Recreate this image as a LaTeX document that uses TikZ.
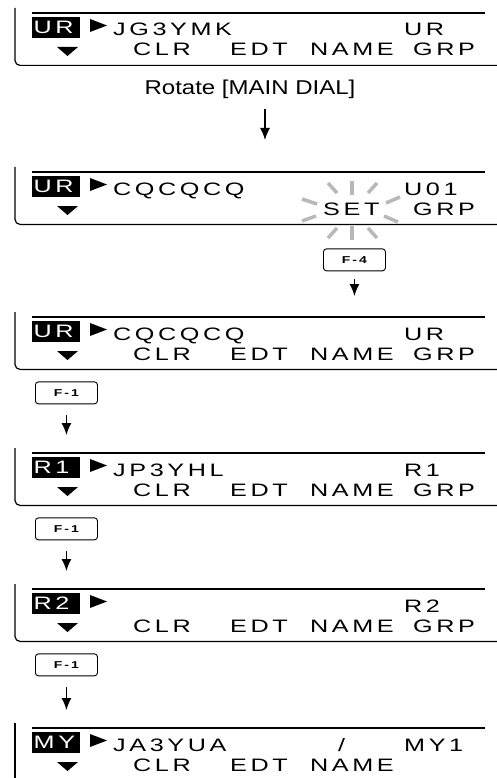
\documentclass[tikz,border=0pt]{standalone}
\usepackage{fontspec}
\setmainfont{Liberation Sans}
\newfontfamily\lcdfont{Liberation Sans}[FakeStretch=1.4,LetterSpace=20]
\newfontfamily\notefont{Liberation Sans}[FakeStretch=1.2]
\usetikzlibrary{arrows.meta, positioning}
\definecolor{raygray}{gray}{0.72}

\newcommand{\lcdsize}{\lcdfont\fontsize{18}{18}\selectfont}
\newcommand{\keysize}{\lcdfont\bfseries\fontsize{10}{10}\selectfont}

% one LCD screen: name, top edge, label, call sign, right field
\newcommand{\lcdscreen}[5]{%
  \node (#1) [screen] at (15,#2) {};
  \begin{scope}[shift={(0,#2)}]
    \node (#1-lbl) [lblbox] at (32,4) {#3};
    \fill (90,6) -- (107,12.5) -- (90,19) -- cycle;
    \fill (57,34) -- (78,34) -- (67.5,43) -- cycle;
    \node (#1-call) [lcdtext] at (113,23) {#4};
    \node (#1-right) [lcdtext] at (404,23) {#5};
  \end{scope}
  \draw [frame] ([xshift=17pt]#1.north west) -- ([xshift=-12pt]#1.north east);
}
% the soft keys on the lower row
\newcommand{\lcdkeys}[2]{%
  \node (#1-clr) [lcdtext] at (133,#2+43) {CLR};
  \node (#1-edt) [lcdtext] at (230,#2+43) {EDT};
  \node (#1-name) [lcdtext] at (310,#2+43) {NAME};
  \node (#1-grp) [lcdtext] at (413,#2+43) {GRP};
}

\begin{document}
\begin{tikzpicture}[x=1pt, y=-1pt,
    screen/.style={anchor=north west, minimum width=482pt, minimum height=52pt, inner sep=0pt},
    frame/.style={line width=1.2pt, rounded corners=5pt},
    lblbox/.style={anchor=north west, fill=black, text=white, font=\lcdsize, text width=45pt, inner xsep=1.5pt, inner ysep=0pt, minimum height=21pt, align=left},
    lcdtext/.style={anchor=base west, inner sep=0pt, font=\lcdsize, text height=13pt, text depth=0pt},
    fkey/.style={draw, line width=0.9pt, rounded corners=3pt, minimum width=62pt, minimum height=22pt, inner sep=0pt, font=\keysize},
    note/.style={inner sep=0pt, font=\notefont\fontsize{20}{24}\selectfont},
    ray/.style={draw=raygray, line width=3.5pt},
    arrow/.style={-{Latex[length=12pt, width=10pt]}, line width=1.3pt}
  ]
  \useasboundingbox (0,0) rectangle (497,778);

  % The Screens
  \lcdscreen{scr1}{13}{UR}{JG3YMK}{UR}
  \lcdkeys{scr1}{13}

  \lcdscreen{scr2}{172}{UR}{CQCQCQ}{U01}
  \node (scr2-set) [lcdtext] at (323,215) {SET};
  \node (scr2-grp) [lcdtext] at (413,215) {GRP};

  \lcdscreen{scr3}{317}{UR}{CQCQCQ}{UR}
  \lcdkeys{scr3}{317}

  \lcdscreen{scr4}{453}{R1}{JP3YHL}{R1}
  \lcdkeys{scr4}{453}

  \lcdscreen{scr5}{589}{R2}{}{R2}
  \lcdkeys{scr5}{589}

  \lcdscreen{scr6}{728}{MY}{JA3YUA}{MY1}
  \node (scr6-slash) [lcdtext] at (338,751) {/};
  \node (scr6-clr) [lcdtext] at (133,771) {CLR};
  \node (scr6-edt) [lcdtext] at (230,771) {EDT};
  \node (scr6-name) [lcdtext] at (310,771) {NAME};

  \foreach \s in {scr1,scr2,scr3,scr4,scr5}
    \draw [frame] ([yshift=5pt]\s.north west) -- (\s.south west) -- (\s.south east);
  \draw [frame] ([yshift=5pt]scr6.north west) -- ++(0,55);

  % blinking SET
  \foreach \xa/\ya/\xb/\yb in {328/183/337/193, 352/181/352/195, 377/183/368/193,
      328/238/337/228, 352/240/352/226, 377/238/368/228,
      302/199/317/204, 302/221/316/216, 400/197/386/203, 398/222/384/216}
    \draw [ray] (\xa,\ya) -- (\xb,\yb);

  % The Keys
  \node (rot) [note] at (250,89) {Rotate [MAIN DIAL]};
  \coordinate (rotx) at (265,0);
  \node (f4) [fkey, below right=24pt and 308pt of scr2.south west] {F-4};
  \node (f1a) [fkey, below right=12pt and 20pt of scr3.south west] {F-1};
  \node (f1b) [fkey, below right=12pt and 20pt of scr4.south west] {F-1};
  \node (f1c) [fkey, below right=12pt and 20pt of scr5.south west] {F-1};

  % The Downward Arrows
  \draw [arrow, shorten <=10pt, shorten >=32pt] (rot.south -| rotx) -- (scr2.north -| rotx);
  \draw [arrow, shorten <=8pt, shorten >=21pt] (f4.south) -- (f4.south |- scr3.north);
  \draw [arrow, shorten <=11pt, shorten >=18pt] (f1a.south) -- (f1a.south |- scr4.north);
  \draw [arrow, shorten <=11pt, shorten >=18pt] (f1b.south) -- (f1b.south |- scr5.north);
  \draw [arrow, shorten <=11pt, shorten >=18pt] (f1c.south) -- (f1c.south |- scr6.north);

\end{tikzpicture}
\end{document}
